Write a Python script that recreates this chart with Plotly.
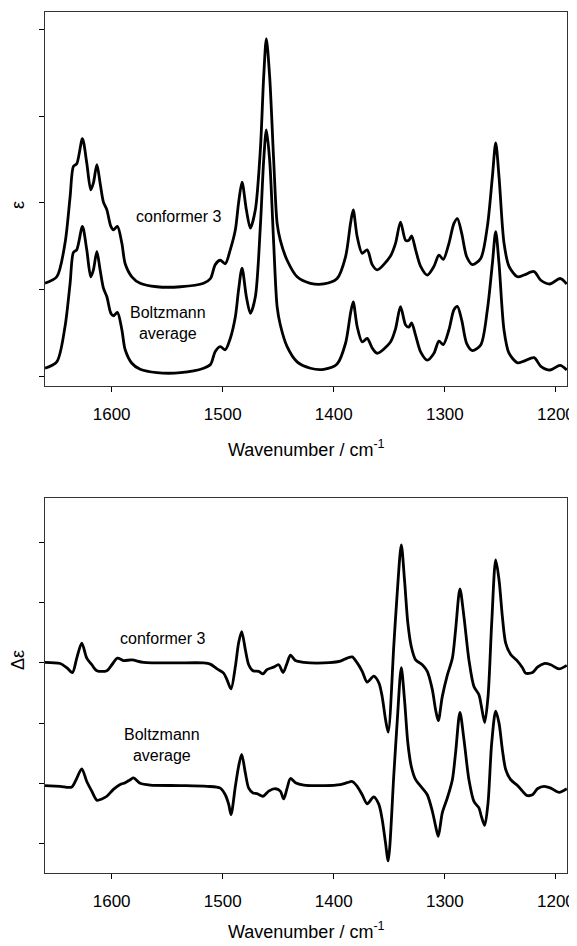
import plotly.graph_objects as go

# ---------------- data ----------------
# IR spectra (top panel), shared wavenumber grid
ir_wn = [1660, 1649.4, 1642, 1637.4, 1634.4, 1631.4, 1626.3, 1622.4, 1618.8, 1616.4,
         1613.3, 1610.4, 1607.4, 1604.3, 1600.7, 1598.4, 1594.8, 1590.8, 1587.8, 1581.8,
         1574.3, 1559.2, 1538, 1517.2, 1511, 1506.7, 1502.2, 1497.7, 1493.2, 1488.6,
         1485.7, 1482.6, 1478.7, 1475.1, 1470.6, 1466.1, 1463.1, 1460.7, 1457.7, 1454.1,
         1451, 1448.1, 1442, 1433, 1421, 1409, 1397, 1389.4, 1384.9, 1382.5,
         1378.9, 1374.4, 1369.9, 1365.4, 1360.9, 1348.9, 1344.4, 1339.9, 1335.3, 1332.4,
         1329.9, 1326.3, 1321.8, 1315.8, 1309.8, 1305.3, 1301.4, 1296.3, 1291.8, 1288.7,
         1284.8, 1280.3, 1275.2, 1267.7, 1261.7, 1257.2, 1254.2, 1251.2, 1246.7, 1242.2,
         1234.6, 1228.7, 1219.7, 1213.6, 1205.2, 1196.2, 1190.2]
ir_conformer3 = [1.075, 1.15, 1.535, 2.07, 2.42, 2.45, 2.74, 2.46, 2.15, 2.23,
                 2.44, 2.23, 2.01, 1.92, 1.73, 1.69, 1.73, 1.535, 1.30, 1.15,
                 1.075, 1.035, 1.035, 1.075, 1.13, 1.29, 1.34, 1.30, 1.46, 1.69,
                 2.0, 2.24, 1.92, 1.71, 1.92, 2.61, 3.45, 3.89, 3.45, 2.49,
                 1.765, 1.57, 1.34, 1.15, 1.075, 1.067, 1.13, 1.38, 1.765, 1.92,
                 1.61, 1.42, 1.46, 1.29, 1.23, 1.39, 1.535, 1.78, 1.57, 1.57,
                 1.62, 1.46, 1.27, 1.17, 1.27, 1.40, 1.35, 1.535, 1.765, 1.82,
                 1.65, 1.38, 1.29, 1.36, 1.73, 2.30, 2.69, 2.30, 1.535, 1.27,
                 1.15, 1.17, 1.21, 1.11, 1.067, 1.13, 1.067]
ir_boltzmann = [0.097, 0.17, 0.575, 1.075, 1.43, 1.46, 1.73, 1.46, 1.15, 1.23,
                1.44, 1.23, 1.02, 0.92, 0.73, 0.70, 0.74, 0.54, 0.31, 0.155,
                0.085, 0.046, 0.046, 0.097, 0.14, 0.29, 0.345, 0.31, 0.44, 0.69,
                1.0, 1.25, 0.92, 0.73, 0.92, 1.73, 2.49, 2.84, 2.49, 1.535,
                0.805, 0.595, 0.345, 0.17, 0.097, 0.085, 0.146, 0.385, 0.73, 0.86,
                0.575, 0.40, 0.44, 0.33, 0.27, 0.40, 0.55, 0.805, 0.595, 0.57,
                0.62, 0.475, 0.285, 0.19, 0.27, 0.41, 0.37, 0.54, 0.77, 0.81,
                0.65, 0.38, 0.30, 0.365, 0.77, 1.30, 1.67, 1.30, 0.535, 0.27,
                0.16, 0.18, 0.22, 0.12, 0.077, 0.13, 0.077]

# VCD spectra (bottom panel)
vcd_wn_conformer3 = [1660, 1646.4, 1640.4, 1635.3, 1631.4, 1626.9, 1622.4, 1617.9, 1613.3, 1604.3,
                     1599.8, 1594.8, 1589.4, 1581.8, 1571.3, 1544.3, 1517.2, 1511.2, 1505.1, 1499.2,
                     1496.1, 1492.5, 1488.6, 1485.7, 1482.9, 1479.6, 1476.6, 1472.7, 1467.6, 1463.7,
                     1460.1, 1454.1, 1449.6, 1445.6, 1442, 1439, 1434.5, 1427, 1409, 1394,
                     1388, 1383.4, 1378.9, 1374.4, 1369.9, 1364, 1359.4, 1356.4, 1353.4, 1351,
                     1345.9, 1342.8, 1339.2, 1336.3, 1333.3, 1330.2, 1326.3, 1320.3, 1315.8, 1311.3,
                     1308.3, 1305.9, 1302.3, 1297.7, 1293.2, 1290.3, 1286.4, 1282.8, 1278.3, 1273.8,
                     1269.3, 1267.1, 1264.1, 1261.1, 1257.8, 1254.2, 1251.2, 1248.2, 1245.2, 1240.7,
                     1234.6, 1230.1, 1227.2, 1221.1, 1216.6, 1210.6, 1204.6, 1197.1, 1190.2]
vcd_conformer3 = [3.01, 2.99, 2.92, 2.84, 3.08, 3.33, 3.08, 2.97, 2.87, 2.87,
                  2.97, 3.08, 3.04, 3.05, 3.01, 3.0, 3.0, 2.98, 2.90, 2.83,
                  2.72, 2.57, 2.94, 3.33, 3.52, 3.22, 2.97, 2.87, 2.86, 2.82,
                  2.89, 2.93, 2.97, 2.84, 3.0, 3.13, 3.04, 3.01, 3.0, 3.03,
                  3.08, 3.10, 3.0, 2.86, 2.68, 2.78, 2.67, 2.44, 2.06, 1.85,
                  3.30, 4.18, 4.96, 4.38, 3.66, 3.27, 3.05, 2.97, 2.86, 2.56,
                  2.22, 2.04, 2.44, 2.80, 3.08, 3.55, 4.23, 3.77, 3.05, 2.61,
                  2.47, 2.28, 2.01, 2.44, 3.66, 4.71, 4.38, 3.77, 3.33, 3.14,
                  3.03, 2.92, 2.83, 2.84, 2.93, 2.99, 2.97, 2.90, 2.96]

vcd_wn_boltzmann = [1660, 1646.4, 1635.9, 1632, 1626.9, 1622.4, 1617.9, 1613.3, 1608.8, 1604.3,
                    1598.4, 1592.3, 1587.8, 1583.3, 1580.3, 1574.3, 1565.3, 1538, 1514.2, 1502.2,
                    1497.7, 1494.6, 1492.5, 1488.6, 1485.7, 1482.9, 1479.6, 1476.6, 1472.7, 1469.1,
                    1463.7, 1458.6, 1452.6, 1448.1, 1445.1, 1442, 1439, 1434.5, 1427, 1409,
                    1394, 1388, 1383.4, 1378.9, 1374.4, 1369.9, 1364, 1359.4, 1356.4, 1353.4,
                    1351, 1345.9, 1342.8, 1339.2, 1336.3, 1333.3, 1330.2, 1326.3, 1320.3, 1315.8,
                    1311.3, 1308.3, 1305.9, 1302.3, 1297.7, 1293.2, 1290.3, 1286.4, 1282.8, 1278.3,
                    1273.8, 1269.3, 1267.1, 1264.1, 1261.1, 1257.8, 1254.2, 1251.2, 1248.2, 1245.2,
                    1240.7, 1234.6, 1230.1, 1226.3, 1221.1, 1216.6, 1210.6, 1204.6, 1197.1, 1190.2]
vcd_boltzmann = [0.963, 0.95, 0.94, 1.06, 1.24, 1.03, 0.87, 0.72, 0.74, 0.785,
                 0.90, 0.98, 1.01, 1.06, 1.09, 1.0, 0.97, 0.963, 0.95, 0.92,
                 0.81, 0.65, 0.48, 0.95, 1.28, 1.48, 1.17, 0.92, 0.84, 0.83,
                 0.785, 0.87, 0.91, 0.87, 0.74, 0.92, 1.08, 1.01, 0.97, 0.963,
                 0.98, 1.01, 1.03, 0.95, 0.81, 0.66, 0.775, 0.65, 0.40, 0.01,
                 -0.29, 1.15, 2.05, 2.92, 2.39, 1.67, 1.28, 1.06, 0.92, 0.81,
                 0.54, 0.29, 0.12, 0.51, 0.76, 1.06, 1.51, 2.18, 1.73, 1.06,
                 0.70, 0.59, 0.45, 0.30, 0.675, 1.67, 2.20, 2.0, 1.56, 1.23,
                 1.06, 0.963, 0.87, 0.80, 0.81, 0.91, 0.95, 0.92, 0.85, 0.91]

x_ticks = [1600, 1500, 1400, 1300, 1200]
x_tick_labels = ["1600", "1500", "1400", "1300", "1200"]
ir_y_ticks = [0, 1, 2, 3, 4]
vcd_y_ticks = [0, 1, 2, 3, 4, 5]

# ---------------- figure ----------------
FONT = "Liberation Sans, Arial, sans-serif"
line_style = dict(color="black", width=2.8, shape="spline", smoothing=0.8)

fig = go.Figure()
fig.add_trace(go.Scatter(x=ir_wn, y=ir_conformer3, mode="lines", line=line_style,
                         xaxis="x", yaxis="y", showlegend=False, hoverinfo="skip"))
fig.add_trace(go.Scatter(x=ir_wn, y=ir_boltzmann, mode="lines", line=line_style,
                         xaxis="x", yaxis="y", showlegend=False, hoverinfo="skip"))
fig.add_trace(go.Scatter(x=vcd_wn_conformer3, y=vcd_conformer3, mode="lines", line=line_style,
                         xaxis="x2", yaxis="y2", showlegend=False, hoverinfo="skip"))
fig.add_trace(go.Scatter(x=vcd_wn_boltzmann, y=vcd_boltzmann, mode="lines", line=line_style,
                         xaxis="x2", yaxis="y2", showlegend=False, hoverinfo="skip"))

xaxis_common = dict(range=[1660, 1190], tickmode="array", tickvals=x_ticks,
                    ticktext=x_tick_labels, ticks="outside", ticklen=5, tickwidth=1,
                    tickcolor="black", showline=True, linecolor="#333", linewidth=1,
                    mirror=True, showgrid=False, zeroline=False, automargin=False,
                    ticklabelstandoff=8,
                    tickfont=dict(family=FONT, size=17, color="black"))
yaxis_common = dict(tickmode="array", ticks="outside", ticklen=5, tickwidth=1,
                    tickcolor="black", showline=True, linecolor="#333", linewidth=1,
                    mirror=True, showgrid=False, zeroline=False, showticklabels=False,
                    automargin=False)

# The page body has an 8px margin; the figure is sized and placed so that
# the plotting frames land where the reference shows them.
OFF = 8
W, H = 577 - OFF, 946 - OFF
PLOT_L, PLOT_R, PLOT_T, PLOT_B = 45, 567, 12, 873      # page pixels
ml, mr, mt, mb = PLOT_L - OFF, W - (PLOT_R - OFF), PLOT_T - OFF, H - (PLOT_B - OFF)
plot_h = PLOT_B - PLOT_T


def py(page_y):
    return (PLOT_B - page_y) / plot_h


fig.update_layout(
    width=W, height=H,
    margin=dict(l=ml, r=mr, t=mt, b=mb, autoexpand=False),
    paper_bgcolor="white", plot_bgcolor="white",
    font=dict(family=FONT, size=16, color="black"),
    xaxis=dict(**xaxis_common, domain=[0, 1], anchor="y"),
    yaxis=dict(**yaxis_common, tickvals=ir_y_ticks, range=[-0.107, 4.197],
               domain=[py(386), 1], anchor="x"),
    xaxis2=dict(**xaxis_common, domain=[0, 1], anchor="y2"),
    yaxis2=dict(**yaxis_common, tickvals=vcd_y_ticks, range=[-0.49, 5.74],
                domain=[0, py(498)], anchor="x2"),
)

ann_font = dict(family=FONT, size=16, color="black")
title_font = dict(family=FONT, size=18, color="black")
annotations = [
    dict(text="conformer 3", x=1540, y=1.84, xref="x", yref="y", showarrow=False, font=ann_font),
    dict(text="Boltzmann<br>average", x=1549, y=0.62, xref="x", yref="y", showarrow=False, font=ann_font),
    dict(text="conformer 3", x=1554.5, y=3.40, xref="x2", yref="y2", showarrow=False, font=ann_font),
    dict(text="Boltzmann<br>average", x=1555, y=1.63, xref="x2", yref="y2", showarrow=False, font=ann_font),
    # axis titles
    dict(text="ε", x=0, xref="paper", xshift=-27, xanchor="center", y=py(205), yref="paper",
         yanchor="middle", textangle=-90, showarrow=False, font=title_font),
    dict(text="Δε", x=0, xref="paper", xshift=-27, xanchor="center", y=py(660), yref="paper",
         yanchor="middle", textangle=-90, showarrow=False, font=title_font),
    dict(text="Wavenumber / cm<sup>-1</sup>", x=0.5, xref="paper", xanchor="center",
         y=py(448), yref="paper", yanchor="middle", showarrow=False, font=title_font),
    dict(text="Wavenumber / cm<sup>-1</sup>", x=0.5, xref="paper", xanchor="center",
         y=py(931), yref="paper", yanchor="middle", showarrow=False, font=title_font),
]
fig.update_layout(annotations=annotations)

fig.write_html("out.html")
